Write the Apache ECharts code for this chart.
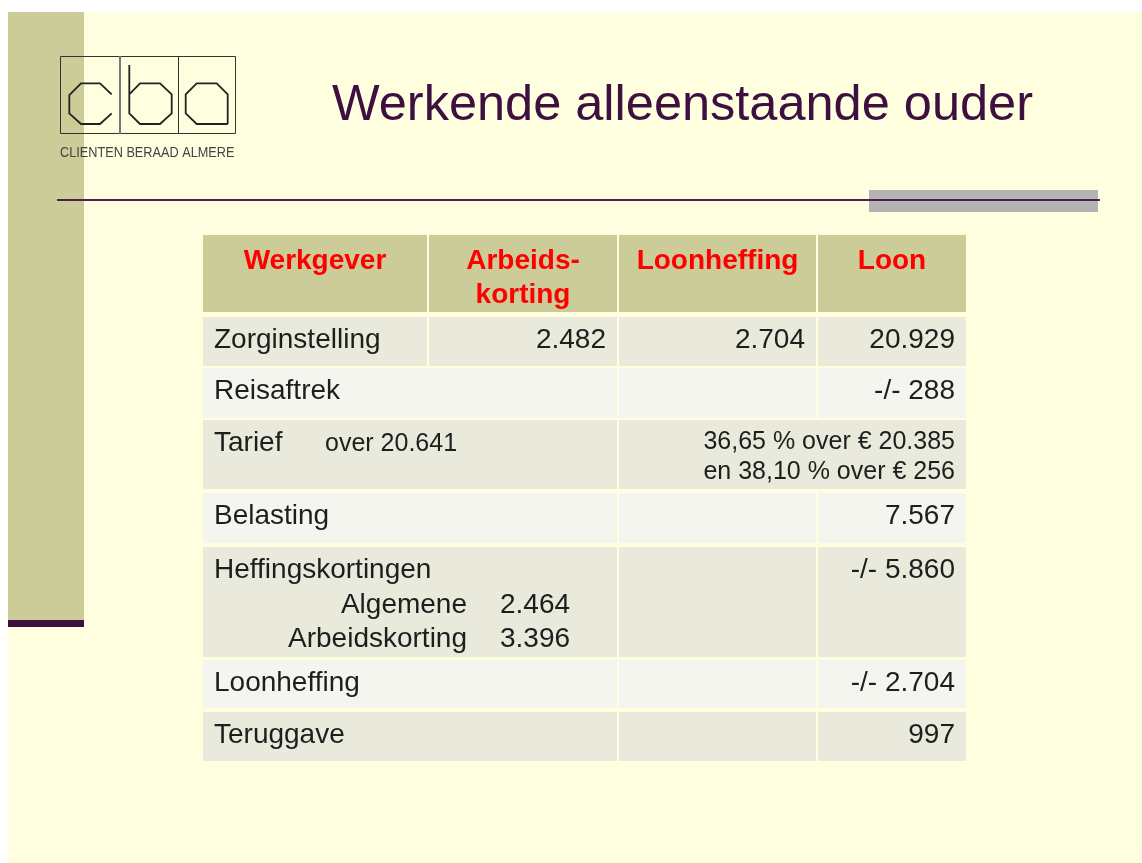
<!DOCTYPE html>
<html>
<head>
<meta charset="utf-8">
<title>Werkende alleenstaande ouder</title>
<script src="https://cdn.jsdelivr.net/npm/echarts@6/dist/echarts.min.js"></script>
<style>
  html, body { margin: 0; padding: 0; background: #fff; }
  #main { width: 1142px; height: 863px; }
</style>
</head>
<body>
<div id="main"></div>
<script>
// ---- table content ----
let headers = ['Werkgever', 'Arbeids-\nkorting', 'Loonheffing', 'Loon'];
let rowLabels = ['Zorginstelling', 'Reisaftrek', 'Tarief', 'Belasting', 'Heffingskortingen', 'Loonheffing', 'Teruggave'];
let arbeidskorting = ['2.482', '', '', '', '', '', ''];
let loonheffing = ['2.704', '', '', '', '', '', ''];
let loon = ['20.929', '-/- 288', '', '7.567', '-/- 5.860', '-/- 2.704', '997'];
let tariefGrens = 'over 20.641';
let tariefSchijven = ['36,65 % over € 20.385', 'en 38,10 % over € 256'];
let kortingNamen = ['Algemene', 'Arbeidskorting'];
let kortingBedragen = ['2.464', '3.396'];

// ---- layout (table units, grid maps them 1:1) ----
let colStart = [0, 226, 416, 615];
let colEnd = [224, 414, 613, 763];
let rowStart = [0, 82, 133, 185, 258, 312, 425, 477];
let rowEnd = [77, 131, 183, 254, 308, 422, 473, 526];

let FONT = '"Liberation Sans", Arial, Helvetica, sans-serif';
let headFill = '#cccc99';
let darkFill = '#e9e9dc';
let lightFill = '#f5f5ef';
let textColor = '#1e1e1e';
let pad = 11;

let cells = [];
function addCell(r, c0, c1, fill, texts) {
    cells.push({x0: colStart[c0], x1: colEnd[c1], y0: rowStart[r], y1: rowEnd[r], fill: fill, texts: texts});
}
function txt(text, anchor, dy, opts) {
    opts = opts || {};
    return {
        text: text, anchor: anchor, dy: dy,
        size: opts.size || 28, bold: !!opts.bold,
        color: opts.color || textColor, align: opts.align
    };
}

// header row
for (let i = 0; i < headers.length; i++) {
    let lines = headers[i].split('\n');
    addCell(0, i, i, headFill, lines.map(function (l, k) {
        return txt(l, 'center', 26 + k * 34, {bold: true, color: '#ff0000', size: 28});
    }));
}
// body rows
for (let j = 0; j < rowLabels.length; j++) {
    let r = j + 1;
    let fill = j % 2 === 0 ? darkFill : lightFill;
    if (j === 0) {
        addCell(r, 0, 0, fill, [txt(rowLabels[j], 'left', 23)]);
        addCell(r, 1, 1, fill, [txt(arbeidskorting[j], 'right', 23)]);
        addCell(r, 2, 2, fill, [txt(loonheffing[j], 'right', 23)]);
        addCell(r, 3, 3, fill, [txt(loon[j], 'right', 23)]);
    } else if (j === 2) {
        addCell(r, 0, 1, fill, [txt(rowLabels[j], 'left', 23), txt(tariefGrens, 122, 24, {size: 25, align: 'left'})]);
        addCell(r, 2, 3, fill, tariefSchijven.map(function (s, k) {
            return txt(s, 'right', 22 + k * 30, {size: 25});
        }));
    } else {
        let texts = [txt(rowLabels[j], 'left', 23)];
        if (j === 4) {
            for (let k = 0; k < kortingNamen.length; k++) {
                texts.push(txt(kortingNamen[k], 264, 58 + k * 34, {align: 'right'}));
                texts.push(txt(kortingBedragen[k], 297, 58 + k * 34, {align: 'left'}));
            }
        }
        addCell(r, 0, 1, fill, texts);
        addCell(r, 2, 2, fill, [txt(loonheffing[j], 'right', 23)]);
        addCell(r, 3, 3, fill, [txt(loon[j], 'right', 23)]);
    }
}

function renderCell(params, api) {
    let cell = cells[params.dataIndex];
    let p0 = api.coord([api.value(0), api.value(1)]);
    let p1 = api.coord([api.value(2), api.value(3)]);
    let children = [{
        type: 'rect',
        shape: {x: p0[0], y: p0[1], width: p1[0] - p0[0], height: p1[1] - p0[1]},
        style: {fill: cell.fill}
    }];
    cell.texts.forEach(function (t) {
        if (!t.text) return;
        let tx, align;
        if (t.anchor === 'left') { tx = cell.x0 + pad; align = 'left'; }
        else if (t.anchor === 'right') { tx = cell.x1 - pad; align = 'right'; }
        else if (t.anchor === 'center') { tx = (cell.x0 + cell.x1) / 2; align = 'center'; }
        else { tx = cell.x0 + t.anchor; align = t.align; }
        let pt = api.coord([tx, cell.y0 + t.dy]);
        children.push({
            type: 'text',
            x: pt[0], y: pt[1],
            style: {
                text: t.text,
                fill: t.color,
                font: (t.bold ? 'bold ' : '') + t.size + 'px ' + FONT,
                align: align,
                verticalAlign: 'middle'
            }
        });
    });
    return {type: 'group', children: children};
}

// logo letters (octagonal c, b, a)
let letterC = [[111.7, 94.3], [100, 83.3], [81, 83.3], [69.3, 95], [69.3, 113.3], [81, 124], [100, 124], [111.7, 113.3]];
let letterB = [[129.3, 65], [129.3, 113.3], [140, 124], [160, 124], [171.7, 113.3], [171.7, 94.3], [160, 83.3], [140, 83.3], [129.3, 94.3]];
let letterA = [[227.7, 124], [227.7, 94.3], [216.7, 83.3], [196.7, 83.3], [185.7, 94.3], [185.7, 113.3], [196.7, 124], [227.7, 124]];

let chart = echarts.init(document.getElementById('main'));
let option = {
    backgroundColor: '#ffffff',
    animation: false,
    grid: {left: 203, top: 235, width: 763, height: 527},
    xAxis: {type: 'value', min: 0, max: 763, show: false},
    yAxis: {type: 'value', min: 0, max: 527, inverse: true, show: false},
    graphic: [
        {type: 'rect', shape: {x: 8, y: 12, width: 1134, height: 851}, style: {fill: '#ffffe0'}},
        {type: 'rect', shape: {x: 8, y: 12, width: 76, height: 608}, style: {fill: '#cccc99'}},
        {type: 'rect', shape: {x: 8, y: 620, width: 76, height: 7}, style: {fill: '#3d0f3d'}},
        {type: 'rect', shape: {x: 869, y: 190, width: 229, height: 22}, style: {fill: '#b3b3b3'}},
        {type: 'line', shape: {x1: 57, y1: 200, x2: 1100, y2: 200}, style: {stroke: '#4f1f4f', lineWidth: 2}},
        // logo
        {type: 'rect', shape: {x: 60.5, y: 56.5, width: 175, height: 77}, style: {fill: null, stroke: '#333', lineWidth: 1}},
        {type: 'line', shape: {x1: 120, y1: 56, x2: 120, y2: 134}, style: {stroke: '#777', lineWidth: 2}},
        {type: 'line', shape: {x1: 178.5, y1: 56, x2: 178.5, y2: 134}, style: {stroke: '#333', lineWidth: 1}},
        {type: 'polyline', shape: {points: letterC}, style: {fill: null, stroke: '#222', lineWidth: 1.8}},
        {type: 'polyline', shape: {points: letterB}, style: {fill: null, stroke: '#222', lineWidth: 1.8}},
        {type: 'polyline', shape: {points: letterA}, style: {fill: null, stroke: '#222', lineWidth: 1.8}},
        {
            type: 'text', x: 60, y: 153, scaleX: 0.82,
            style: {text: 'CLIENTEN BERAAD ALMERE', fill: '#444', font: '15.5px ' + FONT, align: 'left', verticalAlign: 'middle'}
        },
        // slide title
        {
            type: 'text', x: 332, y: 106,
            style: {text: 'Werkende alleenstaande ouder', fill: '#3d1040', font: '50.5px ' + FONT, align: 'left', verticalAlign: 'middle'}
        }
    ],
    series: [{
        type: 'custom',
        clip: false,
        renderItem: renderCell,
        encode: {x: [0, 2], y: [1, 3]},
        data: cells.map(function (c) { return [c.x0, c.y0, c.x1, c.y1]; })
    }]
};
chart.setOption(option);
</script>
</body>
</html>
